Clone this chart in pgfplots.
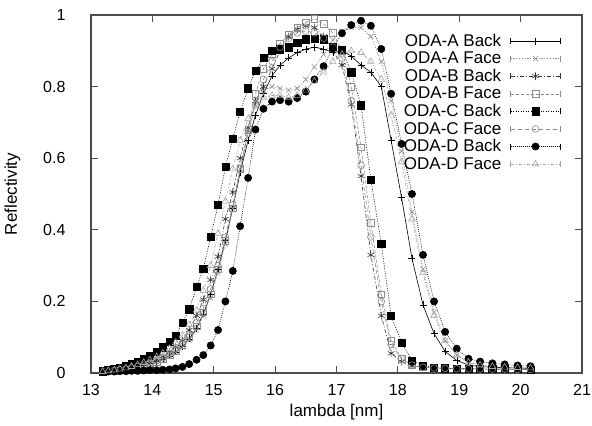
\documentclass[border=0pt]{standalone}
\usepackage{fontspec}
\setmainfont{Liberation Sans}
\usepackage{pgfplots}
\pgfplotsset{compat=1.18}
\usepackage{pgfplotstable}

\pgfplotstableread{
lam   Ab    Af    Bb    Bf    Cb    Cf    Db    Df
13.19 0.004 0.004 0.004 0.004 0.005 0.004 0.003 0.004
13.28 0.005 0.005 0.006 0.005 0.008 0.005 0.004 0.006
13.38 0.007 0.007 0.008 0.007 0.011 0.007 0.004 0.008
13.47 0.009 0.009 0.010 0.009 0.015 0.009 0.005 0.011
13.57 0.011 0.011 0.013 0.011 0.020 0.011 0.005 0.014
13.66 0.014 0.013 0.016 0.014 0.025 0.014 0.006 0.018
13.76 0.017 0.016 0.020 0.017 0.032 0.018 0.006 0.023
13.86 0.021 0.020 0.025 0.021 0.040 0.022 0.007 0.029
13.96 0.026 0.025 0.031 0.026 0.049 0.028 0.008 0.036
14.07 0.032 0.031 0.038 0.032 0.060 0.035 0.008 0.045
14.17 0.039 0.038 0.047 0.040 0.072 0.043 0.009 0.055
14.28 0.048 0.047 0.058 0.050 0.088 0.054 0.010 0.068
14.38 0.059 0.058 0.072 0.062 0.105 0.067 0.013 0.085
14.49 0.074 0.072 0.090 0.078 0.140 0.084 0.017 0.105
14.60 0.095 0.092 0.120 0.100 0.178 0.107 0.025 0.135
14.72 0.125 0.120 0.160 0.130 0.240 0.140 0.037 0.175
14.83 0.165 0.160 0.205 0.170 0.292 0.180 0.050 0.230
14.95 0.220 0.210 0.260 0.220 0.380 0.235 0.077 0.300
15.07 0.290 0.280 0.325 0.290 0.470 0.300 0.120 0.390
15.19 0.370 0.360 0.430 0.370 0.575 0.380 0.200 0.480
15.31 0.460 0.460 0.505 0.460 0.655 0.470 0.285 0.570
15.43 0.560 0.570 0.600 0.570 0.730 0.570 0.410 0.650
15.56 0.650 0.670 0.685 0.680 0.795 0.670 0.545 0.710
15.68 0.720 0.750 0.760 0.780 0.845 0.750 0.680 0.750
15.81 0.780 0.790 0.800 0.850 0.880 0.820 0.738 0.770
15.95 0.830 0.800 0.850 0.890 0.900 0.870 0.758 0.775
16.08 0.860 0.795 0.900 0.920 0.904 0.910 0.762 0.775
16.22 0.880 0.790 0.940 0.945 0.910 0.935 0.758 0.770
16.36 0.895 0.795 0.960 0.965 0.923 0.950 0.768 0.775
16.50 0.905 0.820 0.970 0.980 0.932 0.955 0.786 0.790
16.64 0.910 0.855 0.965 0.990 0.933 0.950 0.820 0.815
16.79 0.905 0.890 0.940 0.975 0.932 0.935 0.857 0.840
16.94 0.895 0.930 0.900 0.950 0.912 0.910 0.907 0.870
17.09 0.900 0.955 0.860 0.900 0.903 0.880 0.949 0.890
17.24 0.885 0.965 0.750 0.800 0.840 0.760 0.972 0.900
17.40 0.860 0.965 0.550 0.630 0.748 0.580 0.984 0.895
17.56 0.840 0.940 0.330 0.420 0.540 0.380 0.970 0.870
17.73 0.800 0.870 0.160 0.220 0.360 0.200 0.905 0.820
17.89 0.650 0.760 0.055 0.090 0.160 0.080 0.780 0.720
18.06 0.490 0.620 0.032 0.040 0.085 0.040 0.640 0.590
18.23 0.320 0.450 0.020 0.022 0.035 0.022 0.500 0.430
18.41 0.190 0.290 0.016 0.016 0.020 0.016 0.330 0.280
18.59 0.110 0.170 0.014 0.014 0.015 0.014 0.200 0.160
18.77 0.060 0.090 0.013 0.013 0.013 0.013 0.115 0.090
18.96 0.035 0.050 0.012 0.012 0.012 0.012 0.068 0.050
19.15 0.022 0.030 0.012 0.012 0.012 0.012 0.040 0.030
19.34 0.018 0.022 0.011 0.011 0.011 0.011 0.032 0.022
19.54 0.016 0.018 0.011 0.011 0.011 0.011 0.027 0.018
19.74 0.015 0.016 0.011 0.011 0.011 0.011 0.024 0.016
19.95 0.014 0.015 0.010 0.010 0.011 0.010 0.021 0.015
20.16 0.013 0.014 0.010 0.010 0.010 0.010 0.019 0.014
}\refl

\begin{document}
\begin{tikzpicture}
\begin{axis}[
    scale only axis,
    width=491bp, height=358bp,
    xmin=13, xmax=21, ymin=0, ymax=1,
    xtick={13,14,...,21},
    ytick={0,0.2,0.4,0.6,0.8,1},
    tick align=inside,
    major tick length=7bp,
    axis line style={black!70, line width=1.1bp},
    tick style={black!70, line width=0.9bp},
    /pgf/number format/assume math mode=true,
    tick label style={font=\fontsize{16bp}{16bp}\selectfont},
    yticklabel style={xshift=-22bp},
    xticklabel style={yshift=-8bp},
    label style={font=\fontsize{17bp}{17bp}\selectfont},
    xlabel={lambda [nm]},
    ylabel={Reflectivity},
    xlabel style={yshift=-1bp},
    ylabel style={yshift=16bp},
    legend plot pos=right,
    legend cell align=right,
    legend style={at={(rel axis cs:1,1)}, anchor=north east,
        xshift=-18bp, yshift=-15bp, draw=none, fill=none,
        font=\fontsize{17bp}{17bp}\selectfont,
        column sep=7bp,
        nodes={inner sep=2pt}},
    legend image code/.code={
        \draw[mark repeat=2, mark phase=2] plot coordinates {(0bp,0bp) (25bp,0bp) (50bp,0bp)};
        \draw[solid] (0bp,-3bp)--(0bp,3bp) (50bp,-3bp)--(50bp,3bp);},
    every axis plot/.append style={line width=0.6bp},
]
\coordinate (sw) at (rel axis cs:0,0);
\coordinate (ne) at (rel axis cs:1,1);
\addplot[black, mark=+, mark size=3.5bp] table[x=lam, y=Ab] {\refl};
\addplot[black!45, dash pattern=on 1.2bp off 1.6bp, mark=x, mark size=3.5bp, mark options={solid}] table[x=lam, y=Af] {\refl};
\addplot[black!80, dash pattern=on 4bp off 2bp on 1bp off 2bp, mark=asterisk, mark size=3.8bp, mark options={solid}] table[x=lam, y=Bb] {\refl};
\addplot[black!45, dash pattern=on 3bp off 2bp, mark=square, mark size=3.3bp, mark options={solid}] table[x=lam, y=Bf] {\refl};
\addplot[black, dash pattern=on 1bp off 1.5bp, mark=square*, mark size=3.6bp, mark options={solid}] table[x=lam, y=Cb] {\refl};
\addplot[black!45, dash pattern=on 4bp off 3bp, mark=o, mark size=3.4bp, mark options={solid}] table[x=lam, y=Cf] {\refl};
\addplot[black, dash pattern=on 0.8bp off 1.2bp, mark=*, mark size=3.6bp, mark options={solid}] table[x=lam, y=Db] {\refl};
\addplot[black!35, dash pattern=on 3bp off 2bp on 1bp off 2bp, mark=triangle, mark size=3.8bp, mark options={solid}] table[x=lam, y=Df] {\refl};
\legend{ODA-A Back, ODA-A Face, ODA-B Back, ODA-B Face, ODA-C Back, ODA-C Face, ODA-D Back, ODA-D Face}
\end{axis}
\pgfresetboundingbox
\path[use as bounding box] ([xshift=-91bp,yshift=-52bp]sw) rectangle ([xshift=10bp,yshift=15bp]ne);
\end{tikzpicture}
\end{document}
